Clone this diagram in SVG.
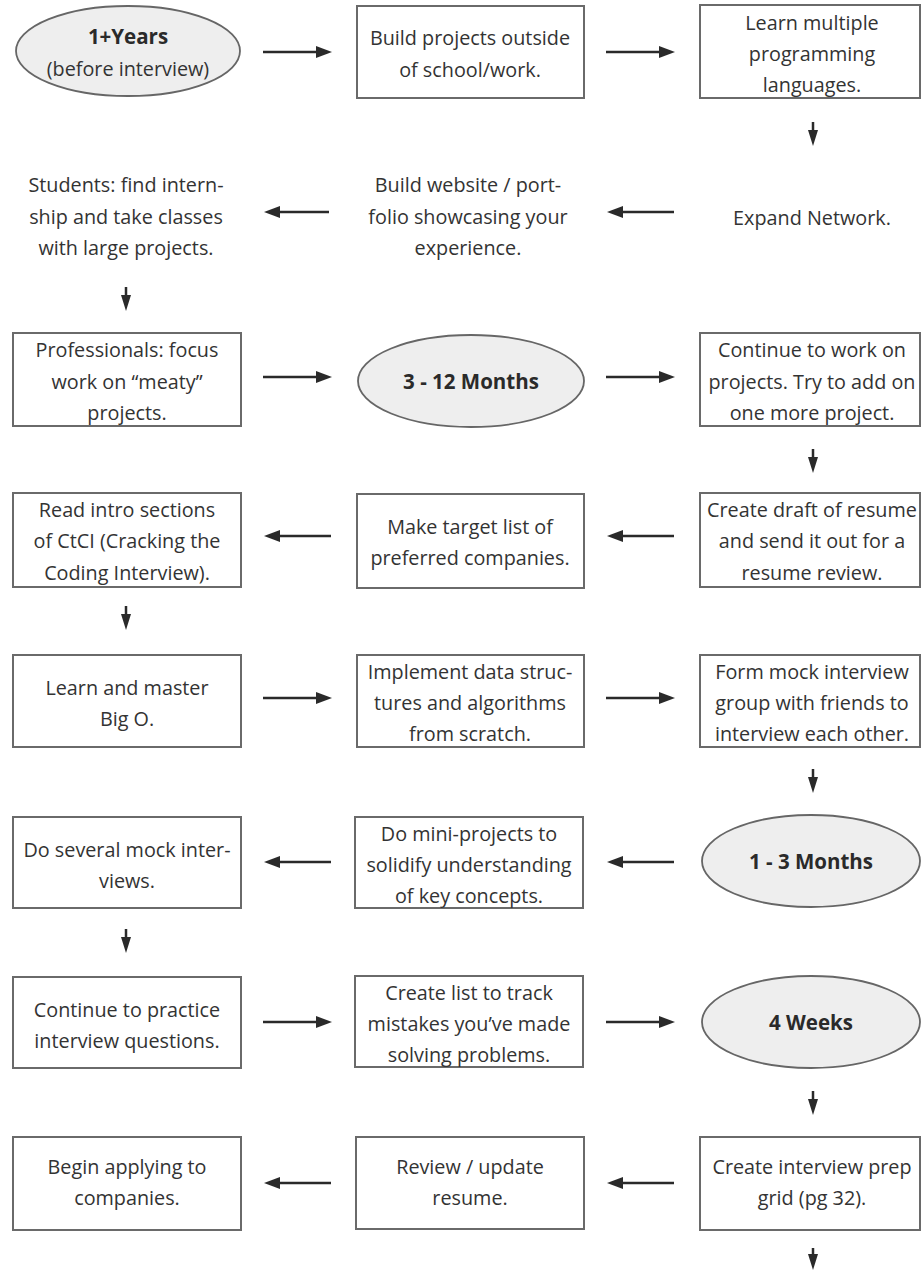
<svg xmlns="http://www.w3.org/2000/svg" width="921" height="1272" viewBox="0 0 921 1272">
<defs>
<style>
.box{fill:#fff;stroke:#6a6a6a;stroke-width:2}
.oval{fill:#eeeeee;stroke:#666;stroke-width:1.8}
.t{font-family:"Open Sans","Liberation Sans",sans-serif;font-size:19.8px;fill:#333;text-anchor:middle}
.b{font-weight:bold;font-size:20.5px;fill:#2a2a2a}
.c{stroke:#2a2a2a;stroke-width:2.5;fill:none}
</style>
<marker id="ah" viewBox="0 0 16 12" refX="6" refY="6" markerWidth="16" markerHeight="12" markerUnits="userSpaceOnUse" orient="auto">
<path d="M0,0 L16,6 L0,12 z" fill="#2a2a2a"/>
</marker>
<marker id="ahd" viewBox="0 0 16 10" refX="6" refY="5" markerWidth="16" markerHeight="10" markerUnits="userSpaceOnUse" orient="auto">
<path d="M0,0 L16,5 L0,10 z" fill="#2a2a2a"/>
</marker>
</defs>
<rect width="921" height="1272" fill="#fff"/>

<g id="connectors">
<line class="c" x1="263" y1="52" x2="322" y2="52" marker-end="url(#ah)"/>
<line class="c" x1="606" y1="52" x2="665" y2="52" marker-end="url(#ah)"/>
<line class="c" x1="813" y1="122" x2="813" y2="136" marker-end="url(#ahd)"/>
<line class="c" x1="674" y1="212" x2="617" y2="212" marker-end="url(#ah)"/>
<line class="c" x1="329" y1="212" x2="274" y2="212" marker-end="url(#ah)"/>
<line class="c" x1="126" y1="287" x2="126" y2="301" marker-end="url(#ahd)"/>
<line class="c" x1="263" y1="377" x2="322" y2="377" marker-end="url(#ah)"/>
<line class="c" x1="606" y1="377" x2="665" y2="377" marker-end="url(#ah)"/>
<line class="c" x1="813" y1="449" x2="813" y2="463" marker-end="url(#ahd)"/>
<line class="c" x1="674" y1="536" x2="617" y2="536" marker-end="url(#ah)"/>
<line class="c" x1="331" y1="536" x2="274" y2="536" marker-end="url(#ah)"/>
<line class="c" x1="126" y1="606" x2="126" y2="620" marker-end="url(#ahd)"/>
<line class="c" x1="263" y1="698" x2="322" y2="698" marker-end="url(#ah)"/>
<line class="c" x1="606" y1="698" x2="665" y2="698" marker-end="url(#ah)"/>
<line class="c" x1="813" y1="769" x2="813" y2="783" marker-end="url(#ahd)"/>
<line class="c" x1="674" y1="862" x2="617" y2="862" marker-end="url(#ah)"/>
<line class="c" x1="331" y1="862" x2="274" y2="862" marker-end="url(#ah)"/>
<line class="c" x1="126" y1="929" x2="126" y2="943" marker-end="url(#ahd)"/>
<line class="c" x1="263" y1="1022" x2="322" y2="1022" marker-end="url(#ah)"/>
<line class="c" x1="606" y1="1022" x2="665" y2="1022" marker-end="url(#ah)"/>
<line class="c" x1="813" y1="1091" x2="813" y2="1105" marker-end="url(#ahd)"/>
<line class="c" x1="674" y1="1183" x2="617" y2="1183" marker-end="url(#ah)"/>
<line class="c" x1="331" y1="1183" x2="274" y2="1183" marker-end="url(#ah)"/>
<line class="c" x1="813" y1="1248" x2="813" y2="1260" marker-end="url(#ahd)"/>
</g>

<g id="n1">
<ellipse class="oval" cx="128" cy="51" rx="112" ry="45"/>
<text class="t b" x="128" y="44">1+Years</text>
<text class="t" x="128" y="76">(before interview)</text>
</g>
<g id="n2">
<rect class="box" x="357" y="6" width="227" height="92"/>
<text class="t" x="470" y="45">Build projects outside</text>
<text class="t" x="470" y="77">of school/work.</text>
</g>
<g id="n3">
<rect class="box" x="700" y="5" width="220" height="93"/>
<text class="t" x="812" y="30">Learn multiple</text>
<text class="t" x="812" y="61">programming</text>
<text class="t" x="812" y="92">languages.</text>
</g>
<g id="n4">
<text class="t" x="812" y="225">Expand Network.</text>
</g>
<g id="n5">
<text class="t" x="468" y="192">Build website / port-</text>
<text class="t" x="468" y="224">folio showcasing your</text>
<text class="t" x="468" y="255">experience.</text>
</g>
<g id="n6">
<text class="t" x="126" y="192">Students: find intern-</text>
<text class="t" x="126" y="224">ship and take classes</text>
<text class="t" x="126" y="255">with large projects.</text>
</g>
<g id="n7">
<rect class="box" x="13" y="333" width="228" height="93"/>
<text class="t" x="127" y="357">Professionals: focus</text>
<text class="t" x="127" y="389">work on “meaty”</text>
<text class="t" x="127" y="420">projects.</text>
</g>
<g id="n8">
<ellipse class="oval" cx="471" cy="381" rx="113" ry="46"/>
<text class="t b" x="471" y="389">3 - 12 Months</text>
</g>
<g id="n9">
<rect class="box" x="700" y="333" width="220" height="93"/>
<text class="t" x="812" y="357">Continue to work on</text>
<text class="t" x="812" y="389">projects. Try to add on</text>
<text class="t" x="812" y="420">one more project.</text>
</g>
<g id="n10">
<rect class="box" x="700" y="493" width="220" height="94"/>
<text class="t" x="812" y="517">Create draft of resume</text>
<text class="t" x="812" y="548">and send it out for a</text>
<text class="t" x="812" y="580">resume review.</text>
</g>
<g id="n11">
<rect class="box" x="357" y="494" width="227" height="94"/>
<text class="t" x="470" y="534">Make target list of</text>
<text class="t" x="470" y="565">preferred companies.</text>
</g>
<g id="n12">
<rect class="box" x="13" y="493" width="228" height="94"/>
<text class="t" x="127" y="517">Read intro sections</text>
<text class="t" x="127" y="548">of CtCI (Cracking the</text>
<text class="t" x="127" y="580">Coding Interview).</text>
</g>
<g id="n13">
<rect class="box" x="13" y="655" width="228" height="92"/>
<text class="t" x="127" y="695">Learn and master</text>
<text class="t" x="127" y="726">Big O.</text>
</g>
<g id="n14">
<rect class="box" x="357" y="655" width="227" height="92"/>
<text class="t" x="470" y="679">Implement data struc-</text>
<text class="t" x="470" y="710">tures and algorithms</text>
<text class="t" x="470" y="741">from scratch.</text>
</g>
<g id="n15">
<rect class="box" x="700" y="655" width="220" height="92"/>
<text class="t" x="812" y="679">Form mock interview</text>
<text class="t" x="812" y="710">group with friends to</text>
<text class="t" x="812" y="741">interview each other.</text>
</g>
<g id="n16">
<ellipse class="oval" cx="811" cy="861" rx="109" ry="46"/>
<text class="t b" x="811" y="869">1 - 3 Months</text>
</g>
<g id="n17">
<rect class="box" x="355" y="817" width="228" height="91"/>
<text class="t" x="469" y="841">Do mini-projects to</text>
<text class="t" x="469" y="872">solidify understanding</text>
<text class="t" x="469" y="903">of key concepts.</text>
</g>
<g id="n18">
<rect class="box" x="13" y="817" width="228" height="91"/>
<text class="t" x="127" y="857">Do several mock inter-</text>
<text class="t" x="127" y="888">views.</text>
</g>
<g id="n19">
<rect class="box" x="13" y="977" width="228" height="91"/>
<text class="t" x="127" y="1017">Continue to practice</text>
<text class="t" x="127" y="1048">interview questions.</text>
</g>
<g id="n20">
<rect class="box" x="355" y="976" width="228" height="91"/>
<text class="t" x="469" y="1000">Create list to track</text>
<text class="t" x="469" y="1031">mistakes you’ve made</text>
<text class="t" x="469" y="1062">solving problems.</text>
</g>
<g id="n21">
<ellipse class="oval" cx="811" cy="1022" rx="109" ry="46"/>
<text class="t b" x="811" y="1030">4 Weeks</text>
</g>
<g id="n22">
<rect class="box" x="700" y="1137" width="220" height="93"/>
<text class="t" x="812" y="1174">Create interview prep</text>
<text class="t" x="812" y="1205">grid (pg 32).</text>
</g>
<g id="n23">
<rect class="box" x="356" y="1137" width="228" height="92"/>
<text class="t" x="470" y="1174">Review / update</text>
<text class="t" x="470" y="1205">resume.</text>
</g>
<g id="n24">
<rect class="box" x="13" y="1137" width="228" height="93"/>
<text class="t" x="127" y="1174">Begin applying to</text>
<text class="t" x="127" y="1205">companies.</text>
</g>
</svg>
